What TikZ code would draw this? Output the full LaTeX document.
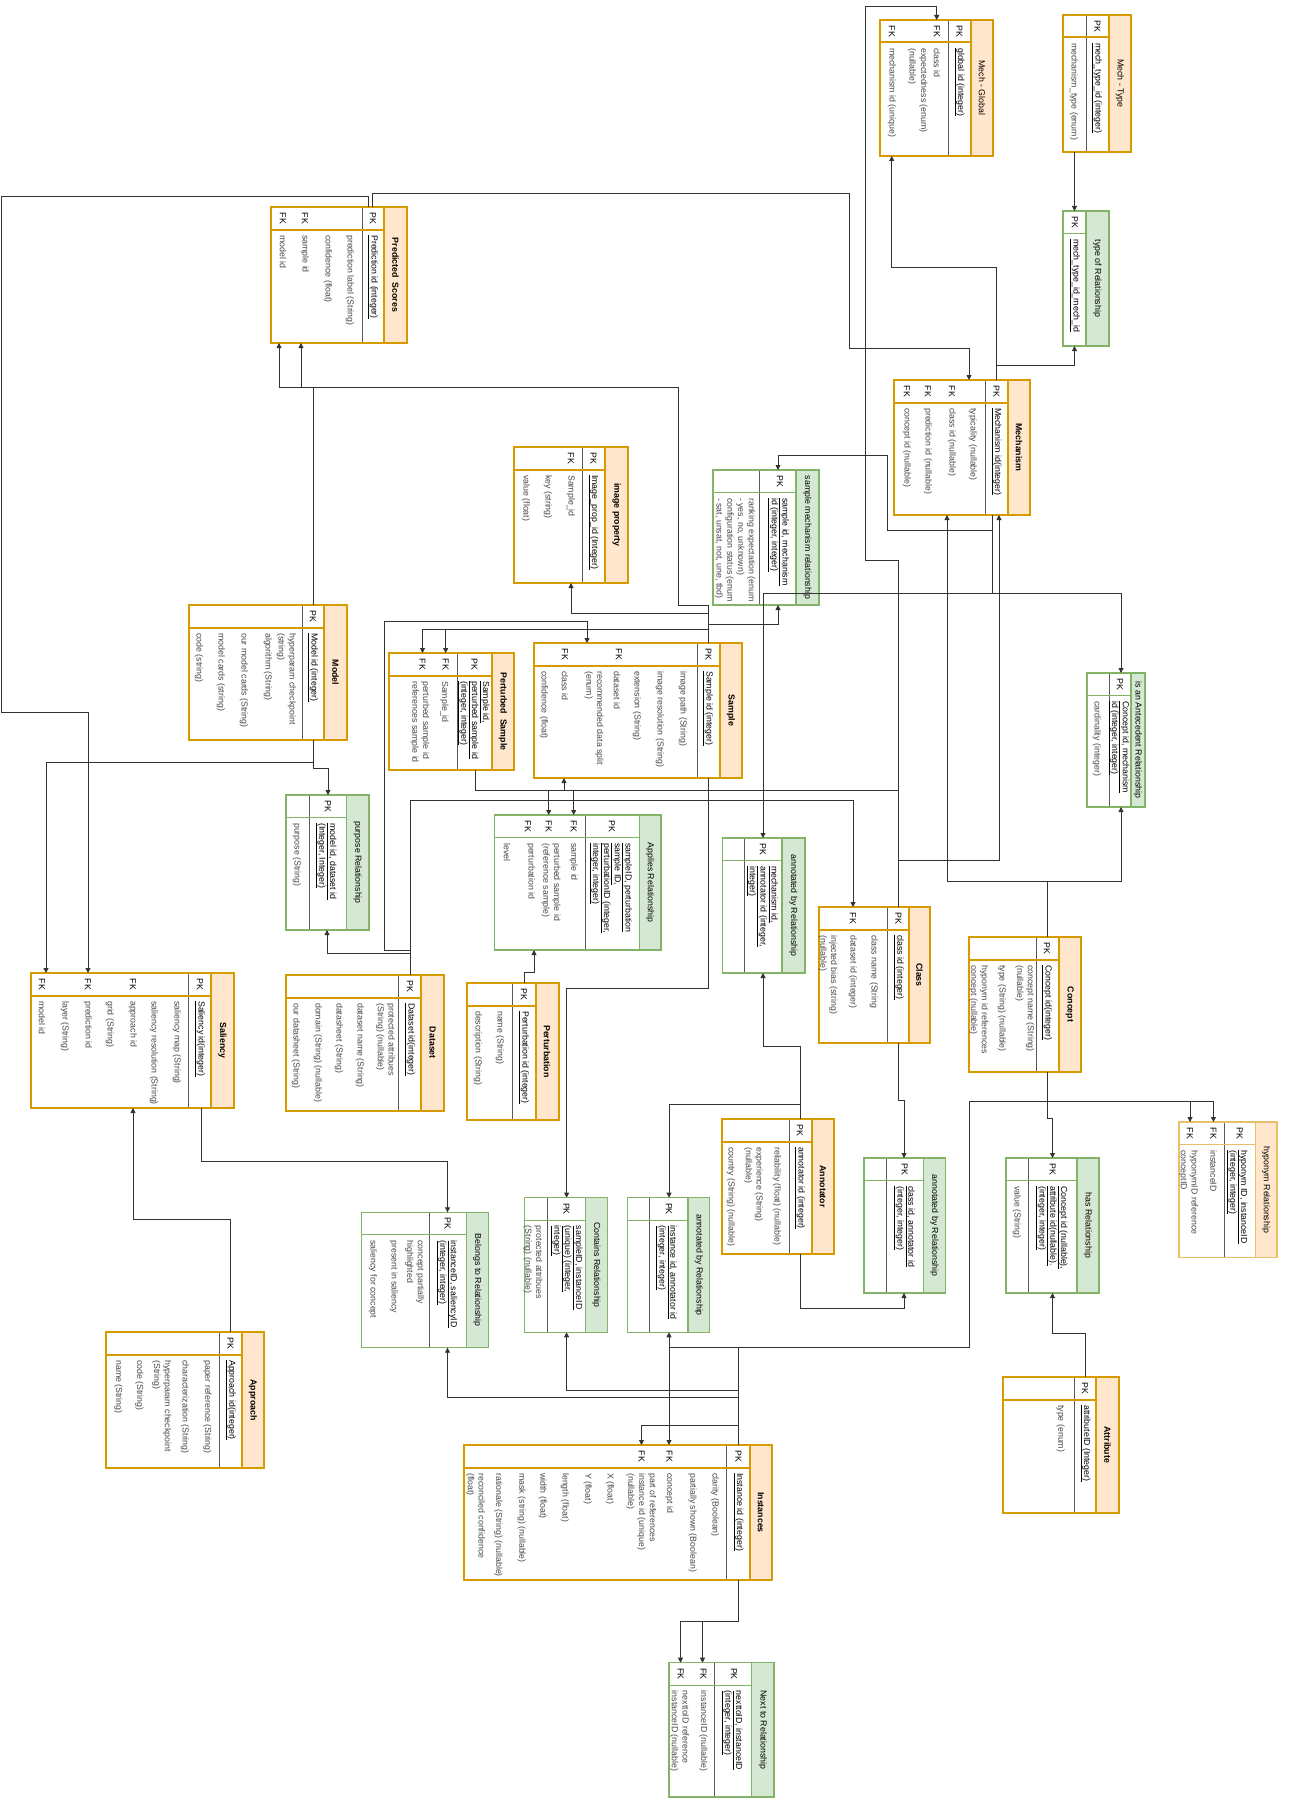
\documentclass[tikz,border=0pt]{standalone}
\usepackage{fontspec}
\setmainfont{Liberation Sans}
\usetikzlibrary{arrows.meta}
\definecolor{cOrLine}{HTML}{D79B00}
\definecolor{cOrFill}{HTML}{FFE6CC}
\definecolor{cGrLine}{HTML}{82B366}
\definecolor{cGrFill}{HTML}{D5E8D4}
\definecolor{cHyLine}{HTML}{E8C06A}
\definecolor{cEdge}{HTML}{333333}
\tikzset{
	% table parts
	orhead/.style ={fill=cOrFill},
	orframe/.style={draw=cOrLine, line width=2pt},
	orkey/.style  ={draw=cOrLine, line width=2pt},
	grhead/.style ={fill=cGrFill},
	grframe/.style={draw=cGrLine, line width=1.2pt},
	grkey/.style  ={draw=cGrLine, line width=1pt},
	hyhead/.style ={fill=cOrFill},
	hyframe/.style={draw=cHyLine, line width=1.2pt},
	hykey/.style  ={draw=cHyLine, line width=1pt},
	pkline/.style ={draw=black!65, line width=1pt},
	titletxt/.style={rotate=-90, inner sep=0pt, align=center, text=black, font=\fontsize{8.8}{10.8}\selectfont},
	ortitle/.style={titletxt, font=\fontsize{8.8}{10.8}\selectfont\bfseries},
	grtitle/.style={titletxt},
	hytitle/.style={titletxt},
	fldtxt/.style ={rotate=-90, anchor=west, inner sep=0pt, align=left, text=black!72, font=\fontsize{8.8}{10.8}\selectfont},
	pktxt/.style  ={fldtxt, text=black},
	keytxt/.style ={rotate=-90, inner sep=0pt, text=black, font=\fontsize{8.8}{10.8}\selectfont},
	fkarrow/.style={draw=cEdge, line width=0.9pt, -{Triangle[length=5pt,width=5pt]}},
}
\newcounter{ercell}
% name, kind, x1, y1, x2, y2, title left, pk line, title
\newcommand{\ertable}[9]{%
	\def\erY{#4}%
	\node[fill=white, inner sep=0pt, outer sep=0pt, minimum width={(#5-#3)*1pt}, minimum height={(#6-#4)*1pt}, anchor=north west] (#1) at (#3,#4) {};
	\fill[#2head] (#7,#4) rectangle (#5,#6);
	\draw[pkline] (#8,#4) -- (#8,#6);
	\draw[#2key] (#3,#4+22.5) -- (#7,#4+22.5);
	\draw[#2frame] (#3,#4) rectangle (#5,#6);
	\draw[#2frame] (#7,#4) -- (#7,#6);
	\node[#2title] (#1-t) at ({(#7+#5)/2},{(#4+#6)/2}) {#9};
}
\newcommand{\kl}[2]{\stepcounter{ercell}\node[keytxt] (cell\arabic{ercell}) at (#1,\erY+11.25) {#2};}
\newcommand{\pkf}[2]{\stepcounter{ercell}\node[pktxt] (cell\arabic{ercell}) at (#1,\erY+28) {#2};}
\newcommand{\fld}[2]{\stepcounter{ercell}\node[fldtxt] (cell\arabic{ercell}) at (#1,\erY+28) {#2};}
\newcommand{\ul}[1]{\underline{#1}}

\begin{document}
\begin{tikzpicture}[x=1pt, y=-1pt]
	\useasboundingbox[fill=white] (0,0) rectangle (1294,1798);

	% ---- tables
	\ertable{mglob}{or}{880}{20}{993}{156}{971}{948}{\mdseries Mech - Global}
	\kl{959.5}{PK} \kl{937}{FK} \kl{892}{FK}
	\pkf{959.5}{\ul{global id (integer)}}
	\fld{937}{class id} \fld{923.5}{expectedness (enum)} \fld{912}{(nullable)} \fld{892}{mechanism id (unique)}

	\ertable{mtype}{or}{1063}{15}{1131}{152}{1109}{1086}{\mdseries Mech - Type}
	\kl{1097.5}{PK}
	\pkf{1097}{\ul{mech\_type\_id (integer)}}
	\fld{1074}{mechanism\_type (enum)}

	\ertable{typerel}{gr}{1063}{211}{1109}{346}{1086}{1063}{type of Relationship}
	\kl{1075}{PK}
	\pkf{1075}{\ul{mech\_type\_id\_mech\_id}}

	\ertable{pred}{or}{271}{207}{407}{343}{384}{362}{Predicted\ \ Scores}
	\kl{373}{PK} \kl{305}{FK} \kl{283}{FK}
	\pkf{373}{\ul{Prediction id (integer)}}
	\fld{350}{prediction label (String)} \fld{328}{confidence (float)} \fld{305}{sample id} \fld{283}{model id}

	\ertable{mech}{or}{894}{380}{1030}{515}{1008}{985}{Mechanism}
	\kl{996.5}{PK} \kl{952}{FK} \kl{928}{FK} \kl{907}{FK}
	\pkf{996.5}{\ul{Mechanism id(integer)}}
	\fld{973}{typicality (nullable)} \fld{952}{class id (nullable)} \fld{928}{prediction id (nullable)} \fld{907}{concept id (nullable)}

	\ertable{imgp}{or}{514}{447}{628}{583}{605}{582}{image property}
	\kl{593.5}{PK} \kl{571}{FK}
	\pkf{593.5}{\ul{Image\_prop\_id (Integer)}}
	\fld{571}{Sample\_id} \fld{548}{key (string)} \fld{526}{value (float)}

	\ertable{smr}{gr}{713}{470}{819}{605}{796}{759}{sample mechanism relationship}
	\kl{780}{PK}
	\pkf{778.5}{\ul{sample id, mechanism}\\\ul{id (integer, integer)}}
	\fld{735}{ranking expectation (enum\\ - yes, no, unknown)\\configuration status (enum\\ - sat, unsat, not, une, tbd)}

	\ertable{model}{or}{189}{605}{347}{740}{324}{302}{Model}
	\kl{313}{PK}
	\pkf{313}{\ul{Model id (integer)}}
	\fld{286.4}{hyperparam checkpoint\\(string)} \fld{268}{algorithm (String)} \fld{244}{our model cards (String)}
	\fld{221}{model cards (string)} \fld{199}{code (string)}

	\ertable{ps}{or}{389}{653}{514}{770}{492}{457}{Perturbed\ \ Sample}
	\kl{474.5}{PK} \kl{445.7}{FK} \kl{422.5}{FK}
	\pkf{473.5}{\ul{Sample id,}\\\ul{perturbed sample id}\\\ul{(integer, integer)}}
	\fld{444.5}{Sample\_id} \fld{420}{perturbed sample id\\references sample id}

	\ertable{sample}{or}{534}{643}{742}{778}{720}{697.5}{Sample}
	\kl{708.5}{PK} \kl{619}{FK} \kl{565}{FK}
	\pkf{708}{\ul{Sample id (integer)}}
	\fld{683}{image path (String)} \fld{660}{image resolution (String)} \fld{637}{extension (String)}
	\fld{617}{dataset id} \fld{594}{recommended data split\\(enum)} \fld{565}{class id} \fld{544}{confidence (float)}

	\ertable{ante}{gr}{1087}{673}{1145}{807}{1131}{1109}{is an Antecedent Relationship}
	\kl{1120}{PK}
	\pkf{1118.7}{\ul{Concept id, mechanism}\\\ul{id (integer, integer)}}
	\fld{1097}{cardinality (integer)}

	\ertable{purp}{gr}{286}{795}{369}{930}{346.5}{309}{purpose Relationship}
	\kl{328}{PK}
	\pkf{326}{\ul{model id, dataset id}\\\ul{(Integer, Integer)}}
	\fld{297}{purpose (String)}

	\ertable{app}{gr}{494.5}{815}{661}{950}{639.5}{585}{Applies Relationship}
	\kl{612}{PK} \kl{573.7}{FK} \kl{548.7}{FK} \kl{527.8}{FK}
	\pkf{610.7}{\ul{sampleID, perturbation}\\\ul{sample ID,}\\\ul{perturbationID (integer,}\\\ul{integer, integer)}}
	\fld{573.7}{sample id} \fld{551}{perturbed sample id\\(reference sample)} \fld{531}{perturbation id} \fld{507}{level}

	\ertable{ann1}{gr}{722.8}{838}{805}{973}{782}{744.5}{annotated by Relationship}
	\kl{763}{PK}
	\pkf{762}{\ul{mechanism id,}\\\ul{annotator id (integer,}\\\ul{integer)}}

	\ertable{cls}{or}{819}{907}{930}{1043}{909}{887}{Class}
	\kl{898.5}{PK} \kl{853}{FK}
	\pkf{898.7}{\ul{class id (integer)}}
	\fld{874}{class name (String} \fld{853}{dataset id (integer)} \fld{828}{injected bias (string)\\(nullable)}

	\ertable{concept}{or}{968.5}{937}{1081}{1072}{1058.5}{1036}{Concept}
	\kl{1047}{PK}
	\pkf{1047}{\ul{Concept id(integer)}}
	\fld{1024.7}{concept name (String)\\(nullable)} \fld{1002}{type (String) (nullable)} \fld{978.7}{hyponym id references\\concept (nullable)}

	\ertable{sal}{or}{31}{973}{234}{1108}{211}{188.3}{Saliency}
	\kl{200}{PK} \kl{133}{FK} \kl{88}{FK} \kl{42}{FK}
	\pkf{200}{\ul{Saliency id(integer)}}
	\fld{177}{saliency map (String)} \fld{154}{saliency resolution (String)} \fld{133}{approach id} \fld{110}{grid (String)}
	\fld{88}{prediction id} \fld{65}{layer (String)} \fld{42}{model id}

	\ertable{ds}{or}{285.6}{975}{444.3}{1110.7}{421}{398.5}{Dataset}
	\kl{410}{PK}
	\pkf{410}{\ul{Dataset id(integer)}}
	\fld{385.6}{protected attribues\\(String) (nullable)} \fld{360}{dataset name (String)} \fld{339}{datasheet (String)}
	\fld{318}{domain (String) (nullable)} \fld{296}{our datasheet (String)}

	\ertable{pert}{or}{467}{983}{558.5}{1119.7}{535.5}{512.7}{Perturbation}
	\kl{524}{PK}
	\pkf{524}{\ul{Perturbation id (integer)}}
	\fld{500}{name (String)} \fld{478}{description (String)}

	\ertable{annot}{or}{721.5}{1119}{834}{1254.3}{811.6}{789}{Annotator}
	\kl{800}{PK}
	\pkf{800}{\ul{annotator id (integer)}}
	\fld{777}{reliability (float) (nullable)} \fld{753.6}{experience (String)\\(nullable)} \fld{731}{country (String) (nullable)}

	\ertable{hypo}{hy}{1179}{1122}{1277}{1257.7}{1255.5}{1224}{hyponym Relationship}
	\kl{1239.7}{PK} \kl{1213.4}{FK} \kl{1190}{FK}
	\pkf{1237}{\ul{hyponym ID, instanceID}\\\ul{(integer, integer)}}
	\fld{1213.4}{instanceID} \fld{1188.5}{hyponymID reference\\conceptID}

	\ertable{has}{gr}{1006}{1158}{1099}{1293}{1077}{1028.5}{has Relationship}
	\kl{1052.7}{PK}
	\pkf{1051.6}{\ul{Concept id (nullable),}\\\ul{attribute id(nullable).}\\\ul{(integer, integer)}}
	\fld{1017}{value (String)}

	\ertable{ann2}{gr}{864}{1158}{945.6}{1293}{923.3}{886.2}{annotated by Relationship}
	\kl{904.7}{PK}
	\pkf{904.2}{\ul{class id, annotator id}\\\ul{(integer, integer)}}

	\ertable{bel}{gr}{361.3}{1212.3}{488.7}{1347.7}{466.3}{429}{Belongs to Relationship}
	\kl{447.7}{PK}
	\pkf{446.8}{\ul{instanceID, saliencyID}\\\ul{(integer, integer)}}
	\fld{414.7}{concept partially\\highlighted} \fld{394}{present in saliency} \fld{373}{saliency for concept}

	\ertable{cont}{gr}{524.7}{1197.7}{607.3}{1332.3}{585.7}{547.3}{Contains Relationship}
	\kl{566.5}{PK}
	\pkf{566.5}{\ul{sampleID, instanceID}\\\ul{(unique) (integer,}\\\ul{integer)}}
	\fld{533}{protected attribues\\(String) (nullable)}

	\ertable{ann3}{gr}{627.3}{1197.7}{709.7}{1332.3}{688}{649.7}{annotated by Relationship}
	\kl{668.8}{PK}
	\pkf{666.3}{\ul{instance id, annotator id}\\\ul{(integer, integer)}}

	\ertable{appr}{or}{106}{1332}{264}{1468}{241.7}{219}{Approach}
	\kl{230.4}{PK}
	\pkf{230.7}{\ul{Approach id(integer)}}
	\fld{207.3}{paper reference (String)} \fld{185}{characterization (String)} \fld{161.7}{hyperparam checkpoint\\(String)}
	\fld{139.3}{code (String)} \fld{118.3}{name (String)}

	\ertable{attr}{or}{1003}{1377}{1118.7}{1512.7}{1096.3}{1074}{Attribute}
	\kl{1085}{PK}
	\pkf{1085.3}{\ul{attributeID (Integer)}}
	\fld{1060.7}{type (enum)}

	\ertable{inst}{or}{464}{1445}{771.7}{1580}{750}{726.7}{Instances}
	\kl{738.3}{PK} \kl{669.3}{FK} \kl{641.7}{FK}
	\pkf{738.3}{\ul{Instance id (integer)}}
	\fld{715}{clarity (Boolean)} \fld{692.7}{partially shown (Boolean)} \fld{669.3}{concept id}
	\fld{641.3}{part of references\\instance id (unique)\\(nullable)} \fld{610}{X (float)} \fld{587.7}{Y (float)}
	\fld{565}{length (float)} \fld{542.7}{width (float)} \fld{521.7}{mask (string) (nullable)}
	\fld{498.3}{rationale (String) (nullable)} \fld{475.5}{reconciled confidence\\(float)}

	\ertable{next}{gr}{669}{1662.7}{774}{1797}{751.7}{714}{Next to Relationship}
	\kl{734}{PK} \kl{703.3}{FK} \kl{680.7}{FK}
	\pkf{732}{\ul{nexttoID, instanceID}\\\ul{(integer, integer)}}
	\fld{703.3}{instanceID (nullable)} \fld{679.5}{nexttoID reference\\instanceID (nullable)}

	% ---- connectors
	\draw[fkarrow] (mtype.south -| 1074.5,0) -- (typerel.north -| 1074.5,0);
	\draw[fkarrow] (mech.north -| 996,0) |- (1074.5,365) -- (typerel.south -| 1074.5,0);
	\draw[fkarrow] (mech.north -| 996,0) |- (891.7,267) -- (mglob.south -| 891.7,0);
	\draw[fkarrow] (pred.north -| 372,0) |- (849,193) |- (969,348) -- (mech.north -| 969,0);
	\draw[fkarrow] (pred.north -| 368,0) |- (1.5,196) |- (88,712) -- (sal.north -| 88,0);
	\draw[fkarrow] (cls.north -| 898.7,0) |- (865,560) |- (936.7,6) -- (mglob.north -| 936.7,0);
	\draw[fkarrow] (mech.south -| 992,0) |- (887,530) |- (778,455) -- (smr.north -| 778,0);
	\draw[fkarrow] (sample.north -| 708,0) |- (778,624) -- (smr.south -| 778,0);
	\draw[fkarrow] (sample.north -| 708,0) |- (571,613) -- (imgp.south -| 571,0);
	\draw[fkarrow] (sample.north -| 708,0) |- (422.5,629) -- (ps.north -| 422.5,0);
	\draw[fkarrow] (sample.north -| 708,0) |- (445.7,629) -- (ps.north -| 445.7,0);
	\draw[fkarrow] (sample.north -| 708,0) |- (678,605) |- (301,387) -- (pred.south -| 301,0);
	\draw[fkarrow] (model.north -| 313,0) |- (279,387) -- (pred.south -| 279,0);
	\draw[fkarrow] (model.south -| 313,0) |- (46,762) -- (sal.north -| 46,0);
	\draw[fkarrow] (model.south -| 313,0) |- (328,768) -- (purp.north -| 328,0);
	\draw[fkarrow] (ds.north -| 410,0) |- (327,953) -- (purp.south -| 327,0);
	\draw[fkarrow] (ds.north -| 410,0) |- (853,800) -- (cls.north -| 853,0);
	\draw[fkarrow] (ds.north -| 410,0) |- (384,950) |- (587,621) -- (sample.north -| 587,0);
	\draw[fkarrow] (pert.north -| 524,0) |- (534,972) -- (app.south -| 534,0);
	\draw[fkarrow] (ps.south -| 475,0) |- (548.7,790) -- (app.north -| 548.7,0);
	\draw[fkarrow] (ps.south -| 475,0) |- (573.7,790) -- (app.north -| 573.7,0);
	\draw[fkarrow] (cls.north -| 898.7,0) |- (564,790) -- (sample.south -| 564,0);
	\draw[fkarrow] (cls.north -| 898.7,0) |- (999,860) -- (mech.south -| 999,0);
	\draw[fkarrow] (concept.north -| 1047,0) |- (947,881.7) -- (mech.south -| 947,0);
	\draw[fkarrow] (concept.north -| 1047,0) |- (1121,881.7) -- (ante.south -| 1121,0);
	\draw[fkarrow] (mech.south -| 992,0) |- (1121,593) -- (ante.north -| 1121,0);
	\draw[fkarrow] (mech.south -| 992,0) |- (763,593) -- (ann1.north -| 763,0);
	\draw[fkarrow] (annot.north -| 800,0) |- (763,1046) -- (ann1.south -| 763,0);
	\draw[fkarrow] (annot.north -| 800,0) |- (669,1104) -- (ann3.north -| 669,0);
	\draw[fkarrow] (annot.south -| 800,0) |- (904,1308) -- (ann2.south -| 904,0);
	\draw[fkarrow] (cls.south -| 898.7,0) |- (904,1100) -- (ann2.north -| 904,0);
	\draw[fkarrow] (sample.south -| 708,0) |- (566.6,988) -- (cont.north -| 566.6,0);
	\draw[fkarrow] (inst.north -| 738.3,0) |- (566.6,1390) -- (cont.south -| 566.6,0);
	\draw[fkarrow] (inst.north -| 738.3,0) |- (447.5,1397) -- (bel.south -| 447.5,0);
	\draw[fkarrow] (inst.north -| 738.3,0) |- (669,1347) -- (ann3.south -| 669,0);
	\draw[fkarrow] (inst.north -| 738.3,0) |- (641.5,1425) -- (inst.north -| 641.5,0);
	\draw[fkarrow] (concept.south -| 1047,0) |- (969,1101) |- (669,1347) -- (inst.north -| 669,0);
	\draw[fkarrow] (concept.south -| 1047,0) |- (1190,1101) -- (hypo.north -| 1190,0);
	\draw[fkarrow] (inst.north -| 738.3,0) |- (969,1347) |- (1213.4,1101) -- (hypo.north -| 1213.4,0);
	\draw[fkarrow] (concept.south -| 1047,0) |- (1052.5,1118) -- (has.north -| 1052.5,0);
	\draw[fkarrow] (attr.north -| 1085.3,0) |- (1052.5,1333) -- (has.south -| 1052.5,0);
	\draw[fkarrow] (inst.south -| 738.3,0) |- (702.5,1621.7) -- (next.north -| 702.5,0);
	\draw[fkarrow] (inst.south -| 738.3,0) |- (680.5,1621.7) -- (next.north -| 680.5,0);
	\draw[fkarrow] (appr.north -| 230.5,0) |- (133,1219) -- (sal.south -| 133,0);
	\draw[fkarrow] (sal.south -| 201,0) |- (447.5,1161) -- (bel.north -| 447.5,0);
\end{tikzpicture}
\end{document}
